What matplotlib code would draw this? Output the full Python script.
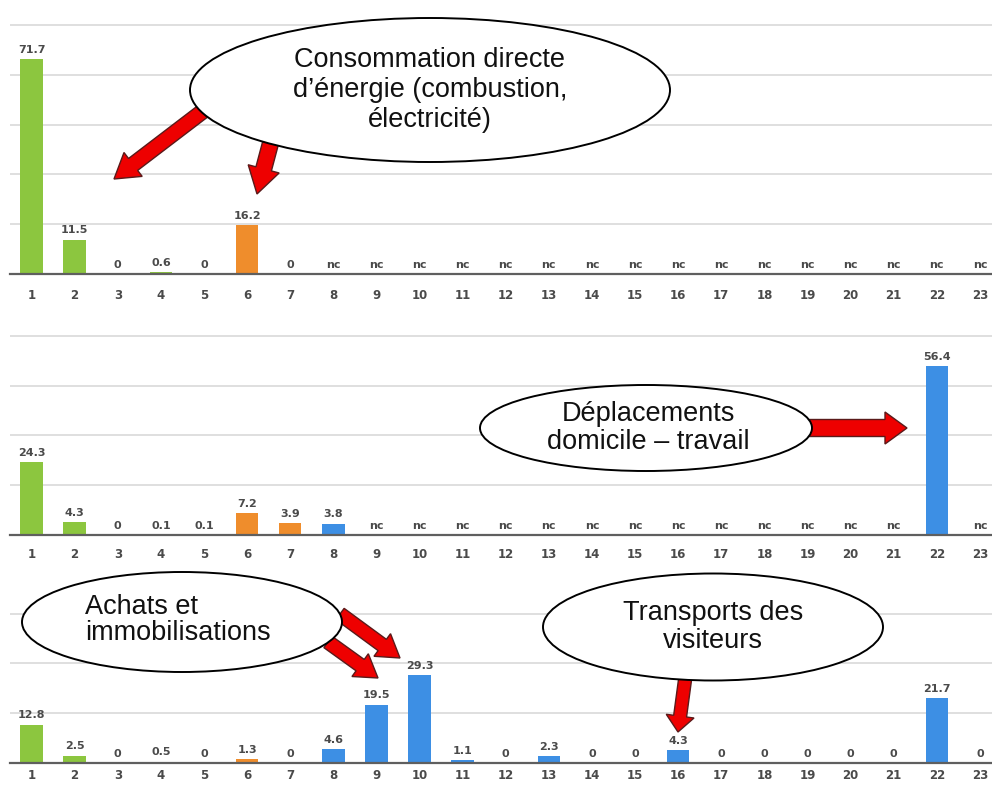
import numpy as np
import matplotlib
matplotlib.use('Agg')
import matplotlib.pyplot as plt
from matplotlib.patches import Ellipse, FancyArrow

# postes 1..23, nan = non calculé (nc)
postes = list(range(1, 24))
nc = np.nan
energie = [71.7, 11.5, 0, 0.6, 0, 16.2, 0] + [nc] * 16
domicile = [24.3, 4.3, 0, 0.1, 0.1, 7.2, 3.9, 3.8] + [nc] * 13 + [56.4, nc]
achats = [12.8, 2.5, 0, 0.5, 0, 1.3, 0, 4.6, 19.5, 29.3, 1.1, 0, 2.3, 0, 0,
          4.3, 0, 0, 0, 0, 0, 21.7, 0]

green = '#8cc63f'
orange = '#ef8d2c'
blue = '#3d8fe4'
colors = [green] * 5 + [orange] * 2 + [blue] * 16

W, H = 992, 787
fig = plt.figure(figsize=(W / 100, H / 100), dpi=100)

px_per_unit = 3.0
grid_step = 16.6

# (values, baseline pixel, y max, tick label pad) for each panel
panels = [(energie, 274, 84, 11), (domicile, 535, 68, 9), (achats, 763, 52, 4)]

for vals, base, ymax, pad in panels:
    h = ymax * px_per_unit
    ax = fig.add_axes([10 / W, 1 - base / H, 1 - 10 / W, h / H])
    vals = np.array(vals, dtype=float)
    heights = np.nan_to_num(vals)
    ax.bar(postes, heights, width=0.52, color=colors, zorder=3)
    for x, v, hh in zip(postes, vals, heights):
        lab = 'nc' if np.isnan(v) else ('0' if v == 0 else f'{v:.1f}')
        ax.annotate(lab, (x, hh), xytext=(0, 3), textcoords='offset points',
                    ha='center', va='bottom', fontsize=8, fontweight='bold',
                    color='#4a4a4a', zorder=4)
    ax.set_xlim(0.5, 23.28)
    ax.set_ylim(0, ymax)
    ax.set_xticks(postes)
    ax.set_xticklabels([str(p) for p in postes])
    ax.set_yticks(np.arange(grid_step, ymax, grid_step))
    ax.set_yticklabels([])
    ax.tick_params(axis='y', length=0)
    ax.tick_params(axis='x', length=0, pad=pad, labelsize=8.5, labelcolor='#4a4a4a')
    for t in ax.get_xticklabels():
        t.set_fontweight('bold')
    ax.grid(axis='y', color='#dcdcdc', lw=1.3, zorder=0)
    for s in ['top', 'left', 'right']:
        ax.spines[s].set_visible(False)
    ax.spines['bottom'].set_color('#5f5f5f')
    ax.spines['bottom'].set_linewidth(1.6)
    ax.spines['bottom'].set_zorder(5)

# callouts drawn on a full-figure overlay in pixel units
ov = fig.add_axes([0, 0, 1, 1], zorder=10)
ov.set_xlim(0, W)
ov.set_ylim(H, 0)
ov.axis('off')
ov.patch.set_alpha(0)


def arrow(x0, y0, x1, y1, width=15, head_width=30, head_length=24):
    ov.add_patch(FancyArrow(x0, y0, x1 - x0, y1 - y0, width=width,
                            head_width=head_width, head_length=head_length,
                            length_includes_head=True, fc='#ee0000',
                            ec='#5a1a1a', lw=1.0, zorder=1))


def bubble(cx, cy, w, h):
    ov.add_patch(Ellipse((cx, cy), w, h, fc='white', ec='black', lw=1.4, zorder=2))


font = dict(family='Liberation Sans', fontsize=19.5, color='#111111', zorder=3)

# consommation directe d'énergie
arrow(215, 102, 114, 179)
arrow(274, 130, 257, 194, width=16, head_width=32, head_length=26)
bubble(430, 90, 480, 144)
ov.text(430, 90, 'Consommation directe\nd\u2019énergie (combustion,\nélectricité)',
        ha='center', va='center', linespacing=1.2, **font)

# déplacements domicile - travail
arrow(795, 428, 907, 428, width=17, head_width=32, head_length=22)
bubble(646, 428, 332, 86)
ov.text(648, 428, 'Déplacements\ndomicile \u2013 travail', ha='center',
        va='center', linespacing=1.1, **font)

# achats et immobilisations
arrow(340, 614, 400, 658, width=14, head_width=28, head_length=22)
arrow(328, 642, 378, 678, width=14, head_width=28, head_length=22)
bubble(182, 622, 320, 100)
ov.text(85, 620, 'Achats et\nimmobilisations', ha='left', va='center',
        linespacing=1.0, **font)

# transports des visiteurs
arrow(687, 665, 678, 732, width=13, head_width=28, head_length=16)
bubble(713, 627, 340, 107)
ov.text(713, 627, 'Transports des\nvisiteurs', ha='center', va='center',
        linespacing=1.1, **font)

fig.savefig('out.png', dpi=100)
